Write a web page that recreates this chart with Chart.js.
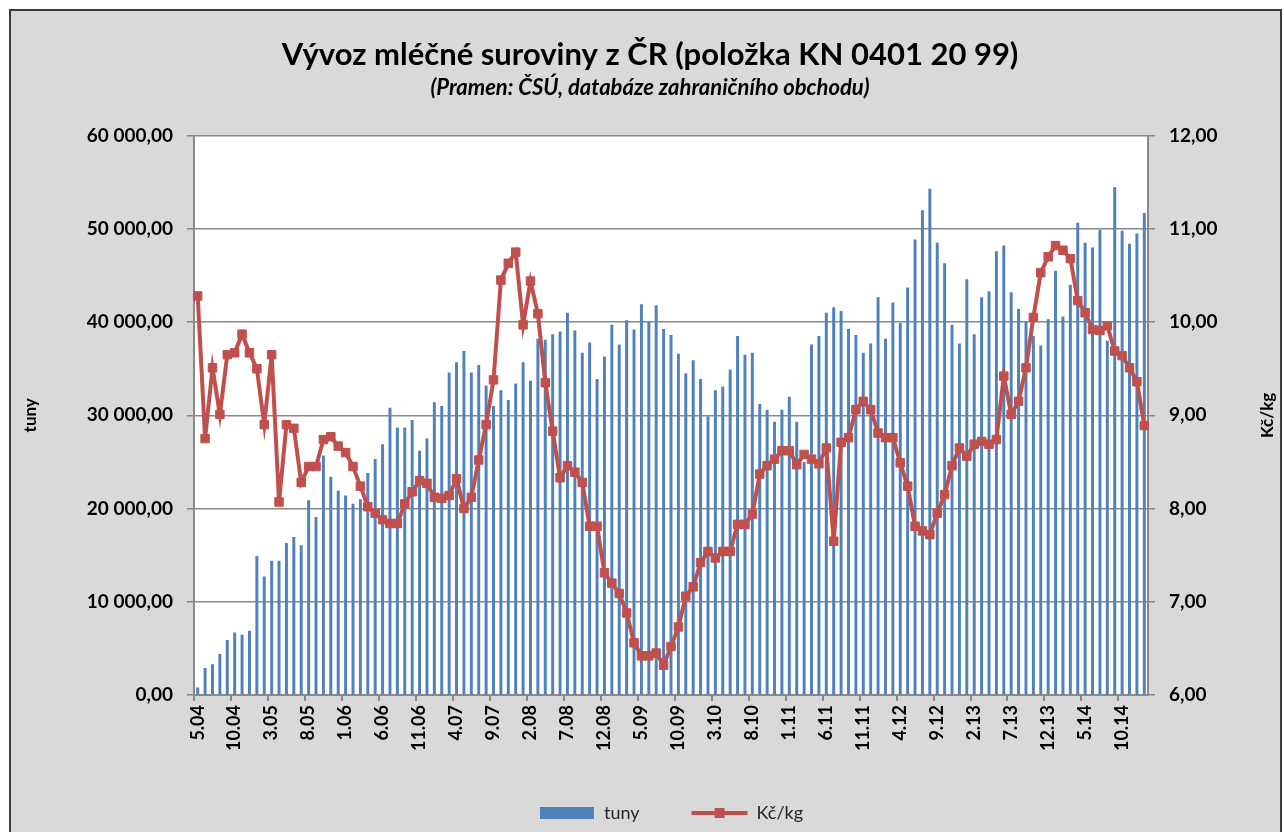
<!DOCTYPE html>
<html>
<head>
<meta charset="utf-8">
<title>Vývoz mléčné suroviny z ČR</title>
<script src="https://cdn.jsdelivr.net/npm/chart.js@4"></script>
<style>
  html, body { margin: 0; padding: 0; background: #fff; }
  canvas { display: block; }
</style>
</head>
<body>
<canvas id="myChart" width="1284" height="832"></canvas>
<script>
// months 5.04 .. 1.15
var months = [
  "5.04", "6.04", "7.04", "8.04", "9.04", "10.04", "11.04", "12.04",
  "1.05", "2.05", "3.05", "4.05", "5.05", "6.05", "7.05", "8.05", "9.05", "10.05", "11.05", "12.05",
  "1.06", "2.06", "3.06", "4.06", "5.06", "6.06", "7.06", "8.06", "9.06", "10.06", "11.06", "12.06",
  "1.07", "2.07", "3.07", "4.07", "5.07", "6.07", "7.07", "8.07", "9.07", "10.07", "11.07", "12.07",
  "1.08", "2.08", "3.08", "4.08", "5.08", "6.08", "7.08", "8.08", "9.08", "10.08", "11.08", "12.08",
  "1.09", "2.09", "3.09", "4.09", "5.09", "6.09", "7.09", "8.09", "9.09", "10.09", "11.09", "12.09",
  "1.10", "2.10", "3.10", "4.10", "5.10", "6.10", "7.10", "8.10", "9.10", "10.10", "11.10", "12.10",
  "1.11", "2.11", "3.11", "4.11", "5.11", "6.11", "7.11", "8.11", "9.11", "10.11", "11.11", "12.11",
  "1.12", "2.12", "3.12", "4.12", "5.12", "6.12", "7.12", "8.12", "9.12", "10.12", "11.12", "12.12",
  "1.13", "2.13", "3.13", "4.13", "5.13", "6.13", "7.13", "8.13", "9.13", "10.13", "11.13", "12.13",
  "1.14", "2.14", "3.14", "4.14", "5.14", "6.14", "7.14", "8.14", "9.14", "10.14", "11.14", "12.14",
  "1.15"
];

// export volume (tuny)
var tuny = [
  800, 2900, 3300, 4400, 5900, 6700, 6450, 6900,
  14900, 12700, 14400, 14400, 16300, 16950, 16050, 20900, 19100, 25700, 23400, 21900,
  21400, 20500, 21000, 23800, 25300, 26900, 30800, 28700, 28700, 29500, 26200, 27500,
  31400, 31000, 34600, 35700, 36900, 34600, 35400, 33200, 31000, 32700, 31650, 33400,
  35700, 33700, 38200, 38100, 38700, 39000, 41000, 39100, 36700, 37800, 33900, 36300,
  39700, 37600, 40200, 39200, 41900, 40000, 41800, 39250, 38600, 36600, 34500, 35900,
  33900, 29900, 32700, 33100, 34900, 38500, 36500, 36700, 31200, 30600, 29300, 30600,
  32000, 29300, 25000, 37600, 38500, 41000, 41600, 41200, 39250, 38600, 36700, 37700,
  42650, 38200, 42100, 39900, 43700, 48850, 52000, 54300, 48500, 46300, 39700, 37700,
  44600, 38700, 42650, 43300, 47600, 48200, 43200, 41400, 40000, 38500, 37500, 40300,
  45500, 40600, 44000, 50650, 48500, 48000, 49900, 38000, 54500, 49800, 48400, 49500,
  51700
];

// price (Kč/kg)
var kcKg = [
  10.28, 8.75, 9.51, 9.01, 9.65, 9.67, 9.87, 9.67,
  9.50, 8.90, 9.65, 8.07, 8.90, 8.86, 8.28, 8.45, 8.45, 8.74, 8.77, 8.67,
  8.60, 8.45, 8.24, 8.02, 7.95, 7.88, 7.84, 7.84, 8.05, 8.18, 8.30, 8.27,
  8.12, 8.11, 8.14, 8.32, 8.00, 8.12, 8.52, 8.90, 9.38, 10.45, 10.63, 10.75,
  9.97, 10.44, 10.09, 9.35, 8.83, 8.33, 8.46, 8.39, 8.28, 7.81, 7.81, 7.31,
  7.20, 7.09, 6.88, 6.56, 6.42, 6.42, 6.45, 6.32, 6.52, 6.73, 7.06, 7.16,
  7.42, 7.54, 7.47, 7.54, 7.54, 7.83, 7.83, 7.94, 8.37, 8.46, 8.53, 8.62,
  8.62, 8.47, 8.58, 8.53, 8.48, 8.65, 7.65, 8.71, 8.76, 9.06, 9.15, 9.06,
  8.81, 8.76, 8.76, 8.49, 8.24, 7.81, 7.76, 7.72, 7.95, 8.15, 8.46, 8.65,
  8.56, 8.69, 8.72, 8.69, 8.74, 9.42, 9.01, 9.15, 9.51, 10.05, 10.53, 10.70,
  10.82, 10.77, 10.68, 10.23, 10.10, 9.92, 9.91, 9.96, 9.69, 9.64, 9.51, 9.36,
  8.89
];

var blue = "#4f81bd";
var red = "#c0504d";
var gridGray = "#898989";
var rightTitle = "Kč/kg";

function fmtNum(v, dec) {
  var parts = v.toFixed(dec).split(".");
  var whole = parts[0].replace(/\B(?=(\d{3})+(?!\d))/g, " ");
  return dec ? whole + "," + parts[1] : whole;
}

// legend icons like excel: flat blue block, red line with square marker
function makeIcon(kind) {
  var c = document.createElement("canvas");
  c.width = 58; c.height = 14;
  var g = c.getContext("2d");
  if (kind === "bar") {
    g.fillStyle = blue;
    g.fillRect(2, 1, 54, 12);
  } else {
    g.strokeStyle = red;
    g.lineWidth = 4;
    g.beginPath(); g.moveTo(1, 7); g.lineTo(57, 7); g.stroke();
    g.fillStyle = red;
    g.fillRect(24, 2, 10, 10);
  }
  return c;
}
var icons = [makeIcon("bar"), makeIcon("line")];

// grey frame behind the whole chart, white plot area,
// and the right axis title read bottom-to-top like the left one
var framePlugin = {
  id: "frame",
  beforeDraw: function(chart) {
    var ctx = chart.ctx, a = chart.chartArea;
    ctx.save();
    ctx.fillStyle = "#ffffff";
    ctx.fillRect(0, 0, chart.width, chart.height);
    ctx.fillStyle = "#d9d9d9";
    ctx.fillRect(10, 10, chart.width - 13, chart.height);
    ctx.strokeStyle = "#3b3b3b";
    ctx.lineWidth = 2;
    ctx.strokeRect(10, 10, chart.width - 13, chart.height + 10);
    ctx.fillStyle = "#ffffff";
    ctx.fillRect(a.left, a.top, a.right - a.left, a.bottom - a.top);
    ctx.restore();
  },
  afterDraw: function(chart) {
    var s = chart.scales.y1, ctx = chart.ctx;
    ctx.save();
    ctx.translate(s.right - 12, (s.top + s.bottom) / 2);
    ctx.rotate(-Math.PI / 2);
    ctx.textAlign = "center";
    ctx.textBaseline = "middle";
    ctx.fillStyle = "#000";
    ctx.font = "bold 17px Lato, 'Open Sans', sans-serif";
    ctx.fillText(rightTitle, 0, 0);
    ctx.restore();
  }
};

Chart.defaults.font.family = "Lato, 'Open Sans', sans-serif";
Chart.defaults.color = "#000";

new Chart("myChart", {
  type: "bar",
  data: {
    labels: months,
    datasets: [{
      type: "bar",
      label: "tuny",
      data: tuny,
      yAxisID: "y",
      backgroundColor: blue,
      barPercentage: 0.4,
      categoryPercentage: 1.0,
      order: 2
    }, {
      type: "line",
      label: "Kč/kg",
      data: kcKg,
      yAxisID: "y1",
      borderColor: red,
      backgroundColor: red,
      borderWidth: 4,
      pointStyle: "rect",
      pointRadius: 6,
      pointBorderWidth: 1,
      pointBackgroundColor: red,
      pointBorderColor: red,
      tension: 0,
      order: 1
    }]
  },
  options: {
    responsive: false,
    animation: false,
    events: [],
    layout: { padding: { left: 20, right: 4, top: 10, bottom: 0 } },
    plugins: {
      title: {
        display: true,
        text: "Vývoz mléčné suroviny z ČR (položka KN 0401 20 99)",
        font: { size: 31, weight: "bold" },
        color: "#000",
        padding: { top: 26, bottom: 2 }
      },
      subtitle: {
        display: true,
        text: "(Pramen: ČSÚ, databáze zahraničního obchodu)",
        font: { size: 22, weight: "bold", style: "italic" },
        color: "#000",
        padding: { top: 0, bottom: 34 }
      },
      legend: {
        position: "bottom",
        fullSize: false,
        labels: {
          usePointStyle: true,
          pointStyleWidth: 56,
          boxHeight: 14,
          padding: 52,
          color: "#262626",
          font: { size: 18 },
          sort: function(a, b) { return a.datasetIndex - b.datasetIndex; },
          generateLabels: function(chart) {
            var items = Chart.defaults.plugins.legend.labels.generateLabels(chart);
            items.forEach(function(it) { it.pointStyle = icons[it.datasetIndex]; });
            return items;
          }
        }
      },
      tooltip: { enabled: false }
    },
    scales: {
      x: {
        offset: true,
        grid: {
          display: true,
          drawOnChartArea: false,
          offset: true,
          tickLength: 6,
          lineWidth: 2,
          color: function(c) { return c.index % 5 === 0 ? gridGray : "rgba(0,0,0,0)"; }
        },
        border: { color: gridGray, width: 2 },
        ticks: {
          autoSkip: false,
          maxRotation: 90,
          minRotation: 90,
          padding: 4,
          color: "#000",
          font: { size: 18, weight: "bold" },
          callback: function(v, i) { return i % 5 === 0 ? this.getLabelForValue(v) : ""; }
        },
        afterFit: function(s) { s.height = 57; }
      },
      y: {
        position: "left",
        min: 0,
        max: 60000,
        ticks: {
          stepSize: 10000,
          padding: 14,
          color: "#000",
          font: { size: 19, weight: "bold" },
          callback: function(v) { return fmtNum(v, 2); }
        },
        grid: { color: gridGray, lineWidth: 1.5, tickLength: 7 },
        border: { color: gridGray, width: 2 },
        title: {
          display: true,
          text: "tuny",
          color: "#000",
          font: { size: 17, weight: "bold" },
          padding: { top: 0, bottom: 0 }
        },
        afterFit: function(s) { s.width = 174; }
      },
      y1: {
        position: "right",
        min: 6,
        max: 12,
        ticks: {
          stepSize: 1,
          padding: 14,
          color: "#000",
          font: { size: 19, weight: "bold" },
          callback: function(v) { return fmtNum(v, 2); }
        },
        grid: { drawOnChartArea: false, color: gridGray, lineWidth: 1.5, tickLength: 7 },
        border: { color: gridGray, width: 2 },
        title: { display: false },
        afterFit: function(s) { s.width = 132; }
      }
    }
  },
  plugins: [framePlugin]
});
</script>
</body>
</html>
